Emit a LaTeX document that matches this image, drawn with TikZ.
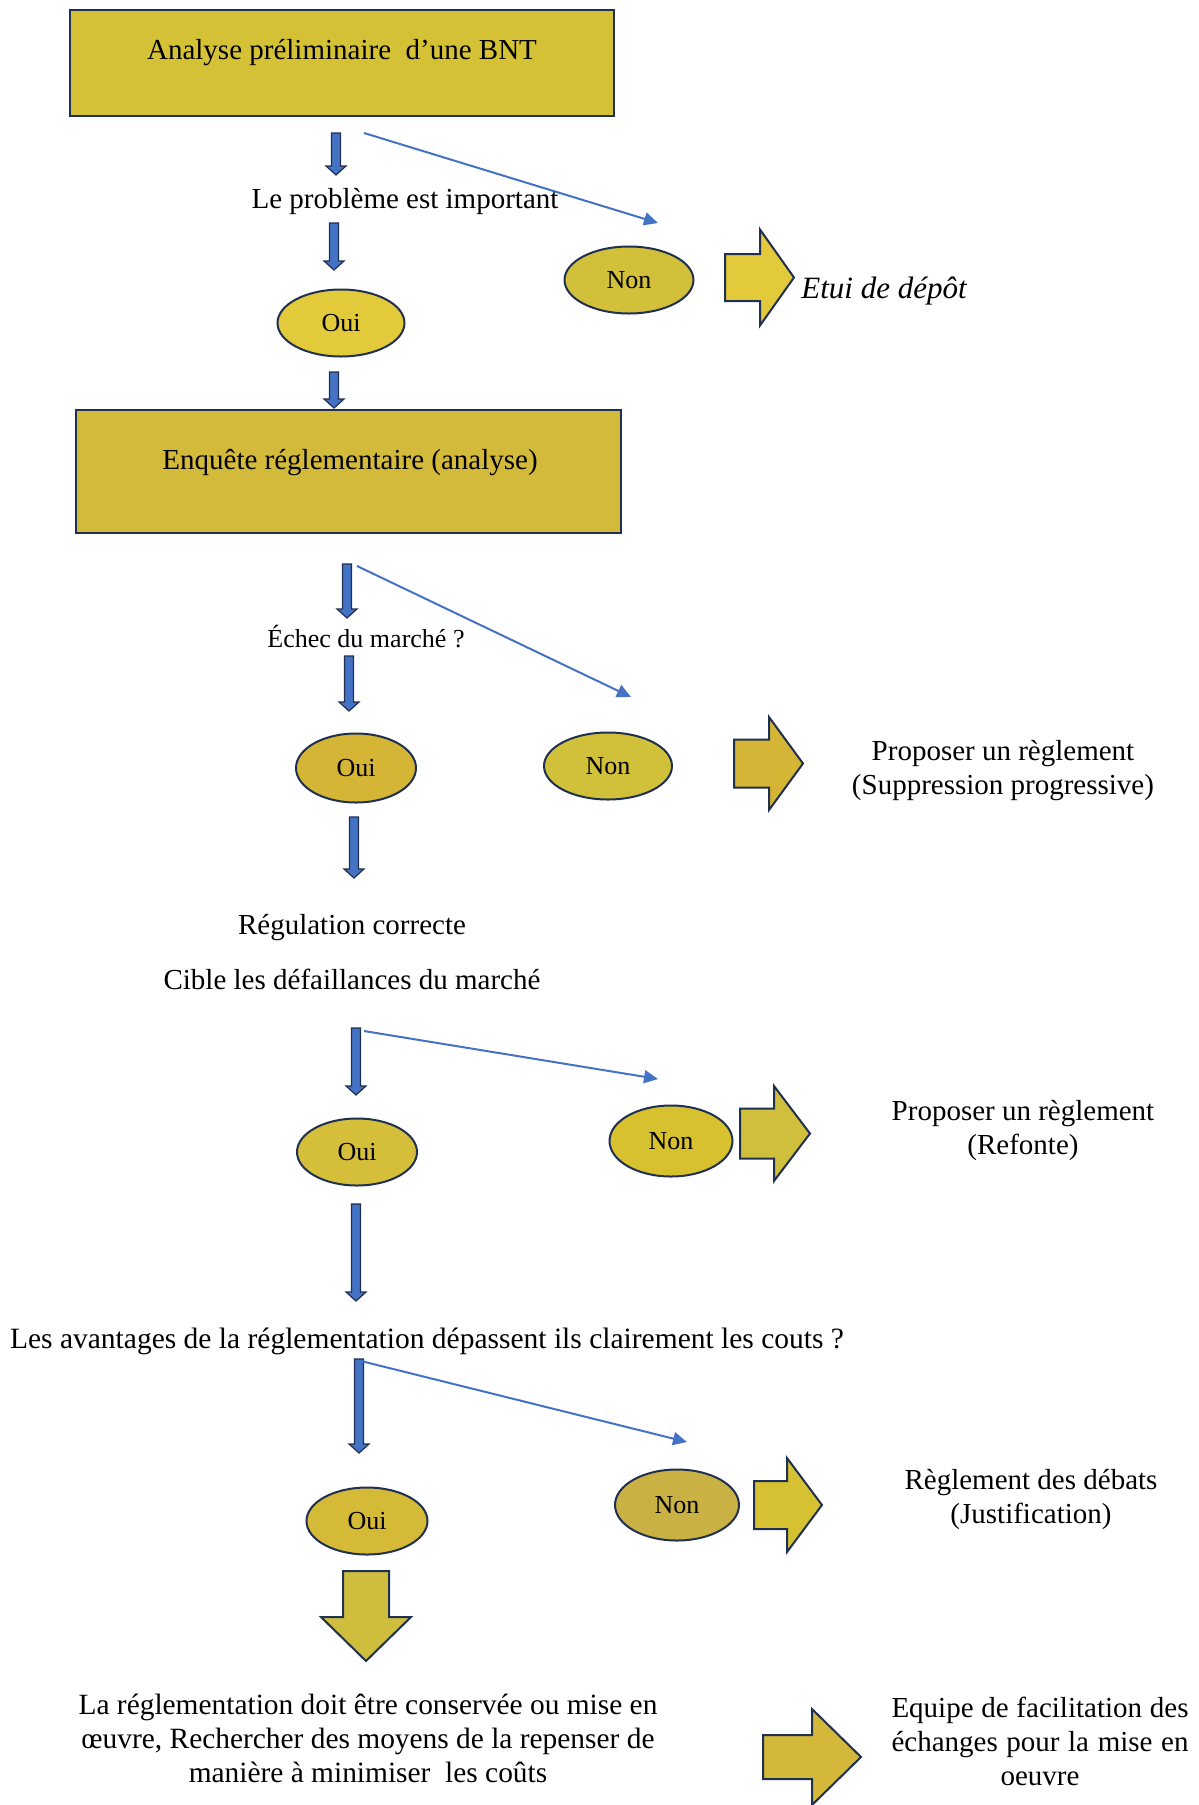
\documentclass[tikz,border=0pt]{standalone}
\usepackage{fontspec}
\setmainfont{Liberation Serif}
\usetikzlibrary{shapes.geometric,arrows.meta,calc}

\definecolor{navy}{HTML}{1F3050}
\definecolor{barblue}{HTML}{4472C4}
\definecolor{gboxA}{HTML}{D5C135}
\definecolor{gboxB}{HTML}{D3BA3A}
\definecolor{gA}{HTML}{E3CA3A}
\definecolor{gB}{HTML}{D2BF3A}
\definecolor{gC}{HTML}{D4B535}
\definecolor{gD}{HTML}{D0C03A}
\definecolor{gE}{HTML}{D5BE3A}
\definecolor{gF}{HTML}{D7C12E}
\definecolor{gG}{HTML}{CFBF3D}
\definecolor{gH}{HTML}{D5BA37}
\definecolor{gI}{HTML}{C9B243}
\definecolor{gJ}{HTML}{D6C133}
\definecolor{gK}{HTML}{CFBD3D}
\definecolor{gL}{HTML}{D4B83A}

% narrow blue block arrow pointing down: #1 top of shaft, #2 tip
\newcommand\bluedown[2]{%
  \draw[bluebar] let \p1=(#1), \p2=(#2) in
    (\x1-2.25pt,\y1) -- (\x1+2.25pt,\y1) -- (\x1+2.25pt,\y2+4.5pt) -- (\x1+5pt,\y2+4.5pt)
    -- (\x1,\y2) -- (\x1-5pt,\y2+4.5pt) -- (\x1-2.25pt,\y2+4.5pt) -- cycle;}

% wide yellow block arrow pointing right:
% #1 fill, #2 tail, #3 tip, #4 shaft half-height, #5 head half-height, #6 head length
\newcommand\yellowright[6]{%
  \draw[yblock, fill=#1] let \p1=(#2), \p2=(#3) in
    (\x1,\y1+#4) -- (\x2-#6,\y1+#4) -- (\x2-#6,\y1+#5) -- (\x2,\y1)
    -- (\x2-#6,\y1-#5) -- (\x2-#6,\y1-#4) -- (\x1,\y1-#4) -- cycle;}

\begin{document}
\begin{tikzpicture}[x=0.5pt,y=-0.5pt,
  box/.style={draw=navy, line width=1pt, rectangle, inner sep=0pt},
  oval/.style={draw=navy, line width=1pt, ellipse, inner sep=0pt,
    font=\fontsize{13}{15}\selectfont},
  lbl/.style={font=\fontsize{14.5}{17}\selectfont, inner sep=0pt, align=center},
  bluebar/.style={draw=navy, fill=barblue, line width=0.6pt, line join=miter},
  yblock/.style={draw=navy, line width=1pt, line join=miter},
  thinarrow/.style={draw=barblue, line width=1pt, -{Triangle[length=7pt,width=6.5pt]}}]

\useasboundingbox[fill=white] (0,0) rectangle (1199,1805);

% ---------- first stage ----------
\node[box, fill=gboxA, minimum width=272pt, minimum height=53pt] (box1) at (342,63) {};
\node[lbl] (box1txt) at (342,53) {Analyse préliminaire \ d’une BNT};

\coordinate (a1s) at (336,133); \coordinate (a1e) at (336,175);
\bluedown{a1s}{a1e}
\coordinate (l1s) at (364,133); \coordinate (l1e) at (658,223);
\draw[thinarrow] (l1s) -- (l1e);

\node[lbl] (prob) at (405,201) {Le problème est important};

\coordinate (a2s) at (334,223); \coordinate (a2e) at (334,270);
\bluedown{a2s}{a2e}

\node[oval, fill=gA, minimum width=63.5pt, minimum height=33.5pt] (oui1) at (341,323) {Oui};
\node[oval, fill=gB, minimum width=64.5pt, minimum height=33.5pt] (non1) at (629,280) {Non};

\coordinate (y1s) at (725,277.5); \coordinate (y1e) at (794,277.5);
\yellowright{gA}{y1s}{y1e}{11.75pt}{24pt}{17pt}
\node[lbl, anchor=west, font=\fontsize{15.5}{18}\selectfont\itshape] (etui) at (801,291) {Etui de dépôt};

\coordinate (a3s) at (334,372); \coordinate (a3e) at (334,408);
\bluedown{a3s}{a3e}

% ---------- second stage ----------
\node[box, fill=gboxB, minimum width=272.5pt, minimum height=61.5pt] (box2) at (348.5,471.5) {};
\node[lbl] (box2txt) at (350,463) {Enquête réglementaire (analyse)};

\coordinate (a4s) at (347,564); \coordinate (a4e) at (347,618);
\bluedown{a4s}{a4e}
\coordinate (l2s) at (357,566); \coordinate (l2e) at (631,697);
\draw[thinarrow] (l2s) -- (l2e);

\node[lbl, font=\fontsize{13}{15}\selectfont] (echec) at (366,637) {Échec du marché ?};

\coordinate (a5s) at (349,656); \coordinate (a5e) at (349,711);
\bluedown{a5s}{a5e}

\node[oval, fill=gC, minimum width=60pt, minimum height=34.5pt] (oui2) at (356,768) {Oui};
\node[oval, fill=gD, minimum width=64pt, minimum height=33.5pt] (non2) at (608,766) {Non};

\coordinate (y2s) at (734,763.5); \coordinate (y2e) at (803,763.5);
\yellowright{gC}{y2s}{y2e}{12pt}{23.25pt}{17pt}
\node[lbl] (prop1) at (1003,770.5) {Proposer un règlement\\(Suppression progressive)};

\coordinate (a6s) at (354,817); \coordinate (a6e) at (354,878);
\bluedown{a6s}{a6e}

\node[lbl] (regul) at (352,927.5) {Régulation correcte};
\node[lbl] (cible) at (352,979.5) {Cible les défaillances du marché};

% ---------- third stage ----------
\coordinate (a7s) at (356,1028); \coordinate (a7e) at (356,1095);
\bluedown{a7s}{a7e}
\coordinate (l3s) at (364,1031); \coordinate (l3e) at (658,1079);
\draw[thinarrow] (l3s) -- (l3e);

\node[oval, fill=gE, minimum width=60pt, minimum height=33.5pt] (oui3) at (357,1152) {Oui};
\node[oval, fill=gF, minimum width=61.5pt, minimum height=35.5pt] (non3) at (671,1141) {Non};

\coordinate (y3s) at (740,1133.5); \coordinate (y3e) at (810,1133.5);
\yellowright{gG}{y3s}{y3e}{12.5pt}{23.75pt}{18pt}
\node[lbl] (prop2) at (1023,1130.5) {Proposer un règlement\\(Refonte)};

\coordinate (a8s) at (356,1204); \coordinate (a8e) at (356,1301);
\bluedown{a8s}{a8e}

\node[lbl, font=\fontsize{14.75}{17}\selectfont] (avant) at (427,1341.5)
  {Les avantages de la réglementation dépassent ils clairement les couts ?};

% ---------- fourth stage ----------
\coordinate (a9s) at (359,1359); \coordinate (a9e) at (359,1453);
\bluedown{a9s}{a9e}
\coordinate (l4s) at (361,1361); \coordinate (l4e) at (687,1442);
\draw[thinarrow] (l4s) -- (l4e);

\node[oval, fill=gH, minimum width=60.5pt, minimum height=33.5pt] (oui4) at (367,1521) {Oui};
\node[oval, fill=gI, minimum width=62pt, minimum height=35.5pt] (non4) at (677,1505) {Non};

\coordinate (y4s) at (754,1505); \coordinate (y4e) at (822,1505);
\yellowright{gJ}{y4s}{y4e}{12pt}{23.5pt}{17.5pt}
\node[lbl] (debat) at (1031,1499) {Règlement des débats\\(Justification)};

% wide yellow arrow pointing down
\coordinate (dws) at (366,1571); \coordinate (dwe) at (366,1661);
\draw[yblock, fill=gK] let \p1=(dws), \p2=(dwe) in
  (\x1-11.5pt,\y1) -- (\x1+11.5pt,\y1) -- (\x1+11.5pt,\y2+22pt) -- (\x1+22.5pt,\y2+22pt)
  -- (\x1,\y2) -- (\x1-22.5pt,\y2+22pt) -- (\x1-11.5pt,\y2+22pt) -- cycle;

\node[lbl, font=\fontsize{14.7}{17}\selectfont] (concl) at (368,1738) {La réglementation doit être conservée ou mise en\\
  œuvre, Rechercher des moyens de la repenser de\\manière à minimiser \ les coûts};

\coordinate (y5s) at (763,1757); \coordinate (y5e) at (861,1757);
\yellowright{gL}{y5s}{y5e}{11pt}{24pt}{24.5pt}
\node[lbl] (equipe) at (1040,1741) {\makebox[148.5pt][s]{Equipe de facilitation des}\\
  \makebox[148.5pt][s]{échanges pour la mise en}\\oeuvre};

\end{tikzpicture}
\end{document}
